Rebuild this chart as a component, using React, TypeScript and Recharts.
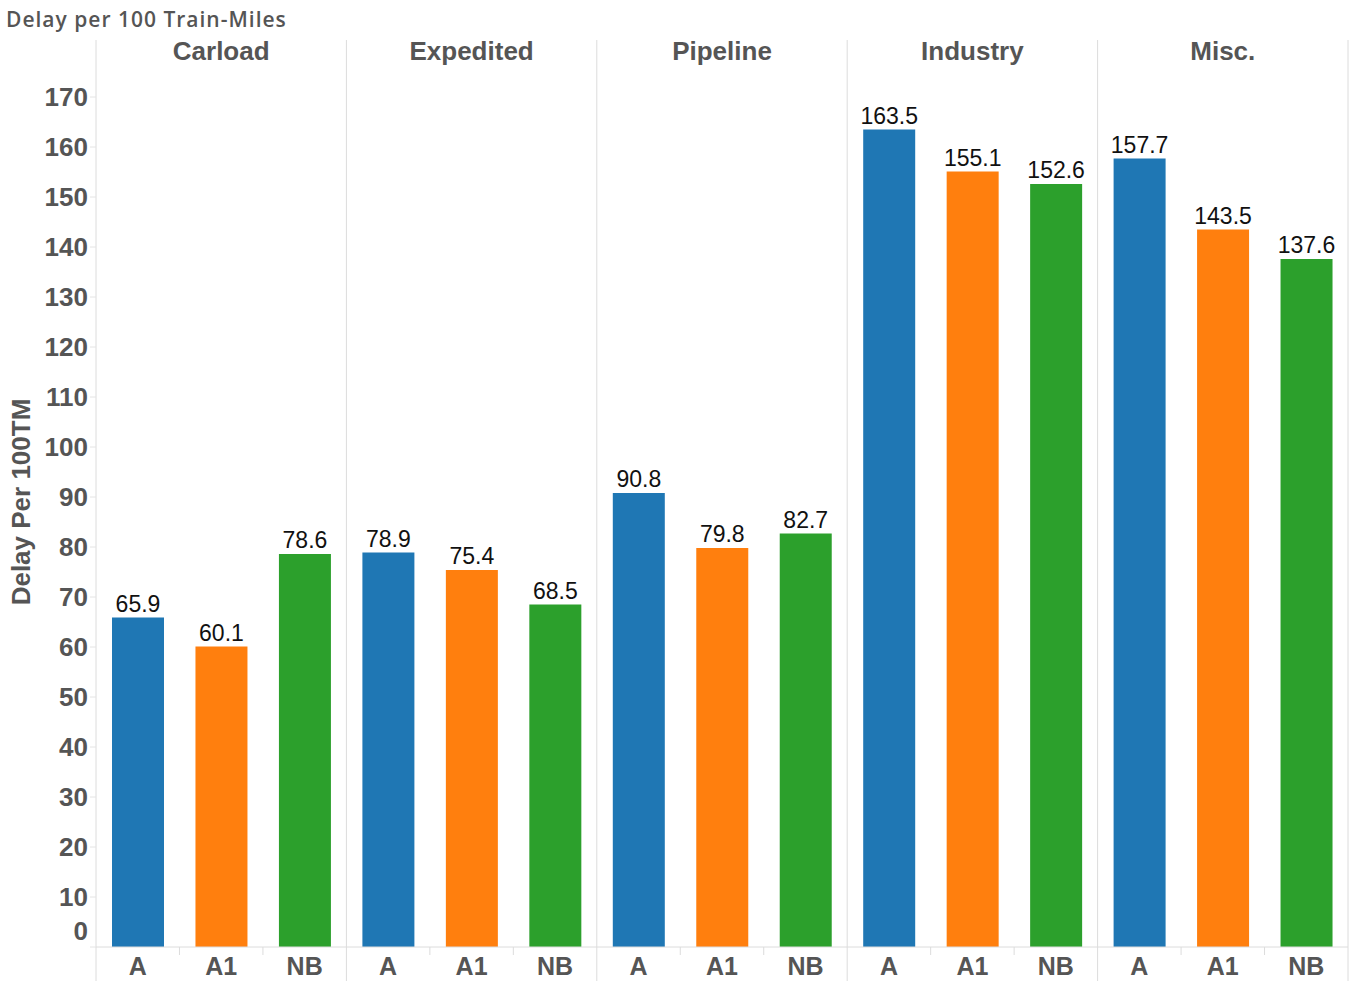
import React from 'react';
import { BarChart, Bar, XAxis, YAxis, CartesianGrid, LabelList, Cell } from 'recharts';

const groups = ['Carload', 'Expedited', 'Pipeline', 'Industry', 'Misc.'];
const seriesNames = ['A', 'A1', 'NB'];
const valuesA = [65.9, 78.9, 90.8, 163.5, 157.7];
const valuesA1 = [60.1, 75.4, 79.8, 155.1, 143.5];
const valuesNB = [78.6, 68.5, 82.7, 152.6, 137.6];
const yTicks = [0, 10, 20, 30, 40, 50, 60, 70, 80, 90, 100, 110, 120, 130, 140, 150, 160, 170];
const colors = ['#1f77b4', '#ff7f0e', '#2ca02c'];

const W = 1351;
const H = 981;
const M = { top: 40, right: 3, left: 0, bottom: 0 };
const Y_W = 96;
const X_H = 34;
const PLOT_W = W - M.left - M.right - Y_W;
const BAND = PLOT_W / (groups.length * seriesNames.length);
const PLOT_BOTTOM = H - X_H;
const FONT = '"Liberation Sans", Arial, sans-serif';
const GRID = '#dcdcdc';

const seriesValues = [valuesA, valuesA1, valuesNB];
const rows = groups.flatMap((g, gi) =>
  seriesNames.map((s, si) => ({ key: `${g}-${s}`, group: g, series: s, value: seriesValues[si][gi], si }))
);

const XTick = (props: any) => {
  const { x, index } = props;
  const row = rows[index] || rows[0];
  const left = x - BAND / 2;
  return (
    <g>
      {index % 3 === 0 ? (
        <line x1={left} x2={left} y1={PLOT_BOTTOM} y2={H} stroke={GRID} />
      ) : (
        <line x1={left} x2={left} y1={PLOT_BOTTOM} y2={PLOT_BOTTOM + 8} stroke={GRID} />
      )}
      {index === rows.length - 1 && (
        <line x1={x + BAND / 2} x2={x + BAND / 2} y1={PLOT_BOTTOM} y2={H} stroke={GRID} />
      )}
      <text x={x} y={975} textAnchor="middle" fontFamily={FONT} fontWeight="bold" fontSize={25} fill="#555">
        {row.series}
      </text>
      {index % 3 === 1 && (
        <text x={x} y={60} textAnchor="middle" fontFamily={FONT} fontWeight="bold" fontSize={26} fill="#555">
          {row.group}
        </text>
      )}
    </g>
  );
};

const YTick = (props: any) => {
  const { x, y, payload } = props;
  const shift = payload.value === 0 ? -16 : 0;
  return (
    <text x={x} y={y + shift} dy={9} textAnchor="end" fontFamily={FONT} fontWeight="bold" fontSize={26} fill="#555">
      {payload.value}
    </text>
  );
};

export default function App() {
  return (
    <div style={{ position: 'absolute', left: 0, top: 0, width: W, height: H, background: '#fff' }}>
      <div
        style={{
          position: 'absolute',
          left: 6,
          top: 5,
          fontFamily: '"Open Sans", sans-serif',
          fontWeight: 600,
          fontSize: 21,
          letterSpacing: 1,
          color: '#555',
          whiteSpace: 'nowrap',
        }}
      >
        Delay per 100 Train-Miles
      </div>
      <div
        style={{
          position: 'absolute',
          left: 21,
          top: 502,
          transform: 'translate(-50%, -50%) rotate(-90deg)',
          fontFamily: FONT,
          fontWeight: 'bold',
          fontSize: 26,
          color: '#555',
          whiteSpace: 'nowrap',
        }}
      >
        Delay Per 100TM
      </div>
      <BarChart width={W} height={H} data={rows} margin={M} barSize={52}>
        <CartesianGrid
          horizontal={false}
          stroke={GRID}
          verticalCoordinatesGenerator={({ offset }: any) =>
            groups.map((_, i) => offset.left + (i * offset.width) / groups.length).concat(offset.left + offset.width)
          }
        />
        <XAxis
          dataKey="key"
          height={X_H}
          interval={0}
          axisLine={{ stroke: GRID }}
          tickLine={false}
          tick={<XTick />}
        />
        <YAxis
          width={Y_W}
          domain={[0, 181.4]}
          ticks={yTicks}
          interval={0}
          axisLine={false}
          tickLine={{ stroke: '#e4e4e4' }}
          tickSize={6}
          tickMargin={2}
          tick={<YTick />}
        />
        <Bar dataKey="value" isAnimationActive={false}>
          {rows.map((r) => (
            <Cell key={r.key} fill={colors[r.si]} />
          ))}
          <LabelList dataKey="value" position="top" offset={6} fontFamily={FONT} fontSize={23} fill="#111" />
        </Bar>
      </BarChart>
    </div>
  );
}
